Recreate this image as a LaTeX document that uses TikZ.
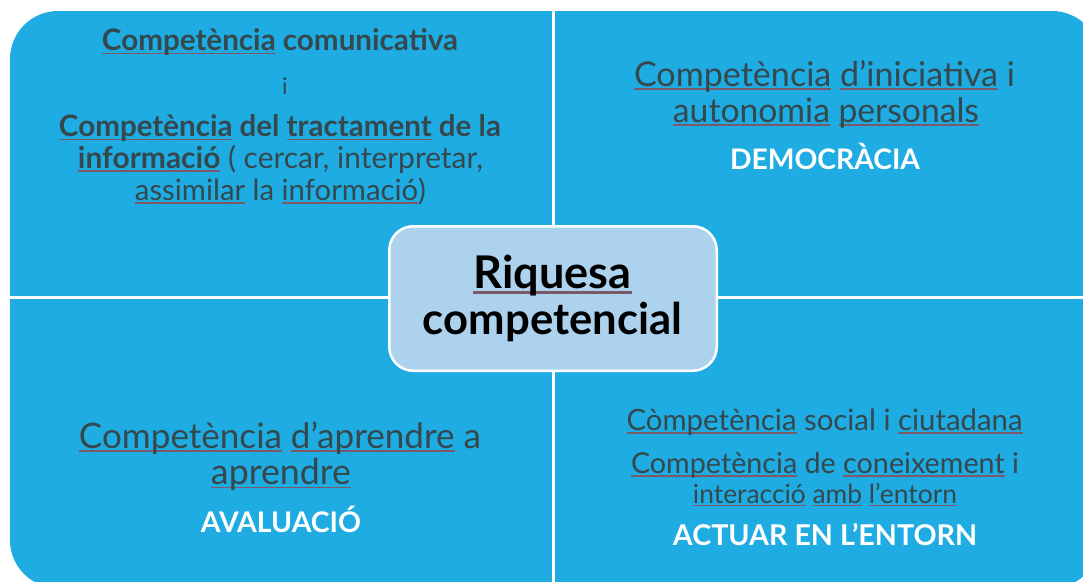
\documentclass[tikz,border=0pt]{standalone}
\usepackage{fontspec}
\setmainfont{Lato}
\usepackage{graphicx}
\definecolor{quad}{RGB}{30,172,226}
\definecolor{cbox}{RGB}{172,210,238}
\definecolor{txt}{RGB}{52,72,78}
\definecolor{sqc}{RGB}{125,88,102}
\newsavebox\sqbox
\newcommand\sq[1]{\leavevmode\sbox\sqbox{#1}\rlap{\color{sqc}\vrule width\wd\sqbox height -0.07em depth 0.125em}\usebox\sqbox}
\newcommand\fw[2]{\resizebox{#1pt}{!}{#2}}
\begin{document}
\begin{tikzpicture}[x=1pt,y=-1pt,
  lbl/.style={anchor=base, inner sep=0pt, outer sep=0pt, text=txt, font=\fontsize{20}{24}\selectfont},
  blbl/.style={lbl, font=\fontsize{20}{24}\selectfont\bfseries},
  wlbl/.style={lbl, text=white, font=\fontsize{20}{24}\selectfont\bfseries},
  clbl/.style={lbl, text=black, font=\fontsize{30}{36}\selectfont\bfseries},
  quadfill/.style={fill=quad},
  centerbox/.style={draw=white, line width=2.5pt, fill=cbox, rounded corners=24pt, inner sep=0pt, minimum width=327.5pt, minimum height=144.5pt}]
\useasboundingbox (0,0) rectangle (1083,581);
\clip (0,0) rectangle (1083,581);
\begin{scope}
  \clip[rounded corners=48pt] (10,11) rectangle (1100,588);
  \fill[quadfill] (10,11) rectangle (552,296);
  \fill[quadfill] (555,11) rectangle (1100,296);
  \fill[quadfill] (10,299) rectangle (552,588);
  \fill[quadfill] (555,299) rectangle (1100,588);
\end{scope}
\node[centerbox] (box) at (553,298.5) {};
% top left
\node[blbl] (tl1) at (280,50.5) {\fw{356}{\sq{Competència} comunicativa}};
\node[lbl, font=\fontsize{23}{27}\selectfont] (tl2) at (285,94) {i};
\node[blbl] (tl3) at (280,136.5) {\fw{442}{\sq{Competència} del \sq{tractament} de la}};
\node[lbl] (tl4) at (280.5,168) {\fw{405}{\textbf{\sq{informació}} ( cercar, interpretar,}};
\node[lbl] (tl5) at (280.5,200) {\fw{291}{\sq{assimilar} la \sq{informació})}};
% top right
\node[lbl] (tr1) at (824.5,86) {\fw{381}{\sq{Competència} \sq{d’iniciativa} i}};
\node[lbl] (tr2) at (826,122) {\fw{306}{\sq{autonomia} \sq{personals}}};
\node[wlbl] (tr3) at (825,169) {\fw{190}{DEMOCRÀCIA}};
% bottom left
\node[lbl] (bl1) at (280,448) {\fw{402}{\sq{Competència} \sq{d’aprendre} a}};
\node[lbl] (bl2) at (281,484) {\fw{140}{\sq{aprendre}}};
\node[wlbl] (bl3) at (281,532) {\fw{160}{AVALUACIÓ}};
% bottom right
\node[lbl] (br1) at (824.6,430) {\fw{396}{\sq{Còmpetència} social i \sq{ciutadana}}};
\node[lbl] (br2) at (825,473) {\fw{388}{\sq{Competència} de \sq{coneixement} i}};
\node[lbl] (br3) at (825,503) {\fw{264}{\sq{interacció} \sq{amb} \sq{l’entorn}}};
\node[wlbl] (br4) at (825,545) {\fw{304}{ACTUAR EN L’ENTORN}};
% center
\node[clbl] (c1) at (552.5,288) {\fw{158}{\sq{Riquesa}}};
\node[clbl] (c2) at (552.5,334) {\fw{259}{competencial}};
\end{tikzpicture}
\end{document}
